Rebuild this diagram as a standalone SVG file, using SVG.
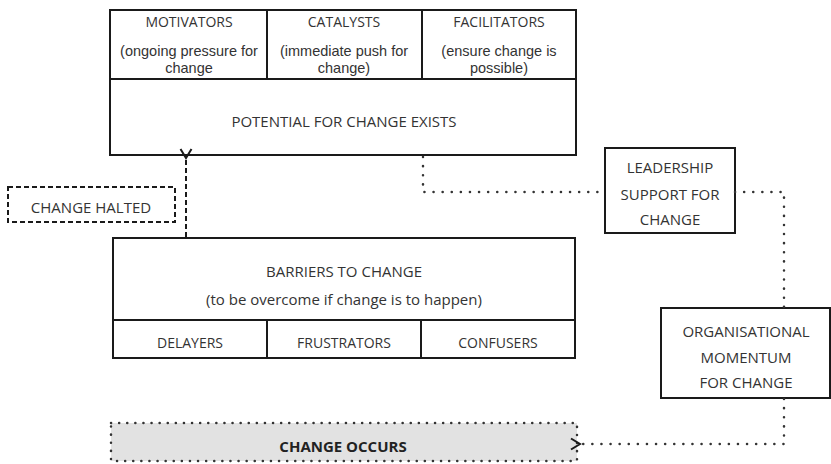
<svg xmlns="http://www.w3.org/2000/svg" width="831" height="464" viewBox="0 0 831 464">
<style>
  text { font-family: "Open Sans", "Liberation Sans", sans-serif; fill: #333; text-anchor: middle; }
  .box { fill: #fff; stroke: #1a1a1a; stroke-width: 2; }
  .sep { stroke: #1a1a1a; stroke-width: 2; fill: none; }
  .t11 { font-size: 14px; }
  .t12 { font-size: 15px; }
  .sub { font-family: "Liberation Sans", Arial, sans-serif; font-size: 14.5px; }
  .dot { fill: none; stroke: #333; stroke-width: 2.5; stroke-dasharray: 0.1 9; stroke-linecap: round; }
  .dash { fill: none; stroke: #1a1a1a; stroke-width: 2; stroke-dasharray: 5 3; }
</style>
<defs>
  <marker id="open" markerWidth="14" markerHeight="14" refX="2" refY="7" orient="auto" markerUnits="userSpaceOnUse">
    <path d="M11,1.5 L2,7 L11,12.5" fill="none" stroke="#1a1a1a" stroke-width="2"/>
  </marker>
</defs>

<g id="potential">
  <rect class="box" x="110" y="10" width="466" height="145"/>
  <line class="sep" x1="110" y1="79" x2="576" y2="79"/>
  <line class="sep" x1="267" y1="10" x2="267" y2="79"/>
  <line class="sep" x1="422" y1="10" x2="422" y2="79"/>
  <text class="t11" x="189" y="27">MOTIVATORS</text>
  <text class="sub" x="189" y="56">(ongoing pressure for<tspan x="189" dy="17">change</tspan></text>
  <text class="t11" x="344" y="27">CATALYSTS</text>
  <text class="sub" x="344" y="56">(immediate push for<tspan x="344" dy="17">change)</tspan></text>
  <text class="t11" x="499" y="27">FACILITATORS</text>
  <text class="sub" x="499" y="56">(ensure change is<tspan x="499" dy="17">possible)</tspan></text>
  <text class="t12" x="344" y="127">POTENTIAL FOR CHANGE EXISTS</text>
</g>

<g id="halted">
  <rect x="8" y="187" width="167" height="35" fill="#fff" stroke="#1a1a1a" stroke-width="2" stroke-dasharray="5 3"/>
  <text class="t12" x="91" y="213">CHANGE HALTED</text>
</g>

<g id="barriers">
  <rect class="box" x="113" y="238" width="462" height="120"/>
  <line class="sep" x1="113" y1="320" x2="575" y2="320"/>
  <line class="sep" x1="267" y1="320" x2="267" y2="358"/>
  <line class="sep" x1="421" y1="320" x2="421" y2="358"/>
  <text class="t12" x="344" y="277">BARRIERS TO CHANGE</text>
  <text class="t12" x="344" y="305">(to be overcome if change is to happen)</text>
  <text class="t11" x="190" y="348">DELAYERS</text>
  <text class="t11" x="344" y="348">FRUSTRATORS</text>
  <text class="t11" x="498" y="348">CONFUSERS</text>
</g>

<g id="leadership">
  <rect class="box" x="605" y="148" width="130" height="85"/>
  <text class="t12" x="670" y="173">LEADERSHIP</text>
  <text class="t12" x="670" y="200">SUPPORT FOR</text>
  <text class="t12" x="670" y="225">CHANGE</text>
</g>

<g id="momentum">
  <rect class="box" x="661" y="308" width="169" height="90"/>
  <text class="t12" x="746" y="337">ORGANISATIONAL</text>
  <text class="t12" x="746" y="363">MOMENTUM</text>
  <text class="t12" x="746" y="388">FOR CHANGE</text>
</g>

<g id="occurs">
  <rect x="111" y="423" width="466" height="38" fill="#e2e2e2" stroke="#333" stroke-width="2.5" stroke-dasharray="0.1 8" stroke-linecap="round"/>
  <text x="343" y="452" style="font-size:15px;font-weight:bold;fill:#222">CHANGE  OCCURS</text>
</g>

<g id="connectors">
  <line class="dash" x1="186" y1="237" x2="186" y2="158" marker-end="url(#open)"/>
  <path class="dot" d="M423,157 L423,192 L605,192"/>
  <path class="dot" d="M735,192 L784,192 L784,307"/>
  <path class="dot" d="M784,399 L784,444 L580,444" marker-end="url(#open)"/>
</g>
</svg>
